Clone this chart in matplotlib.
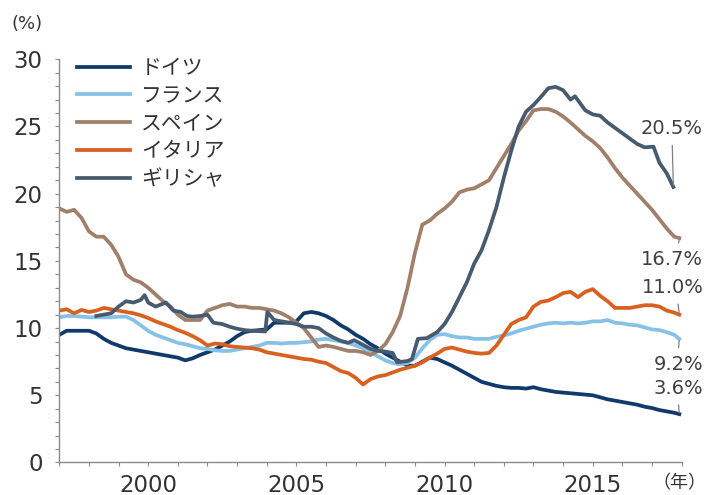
import numpy as np
import matplotlib
matplotlib.use("Agg")
import matplotlib.pyplot as plt
from matplotlib.ticker import MultipleLocator

# ---------------- data ----------------
series_names = ["ドイツ", "フランス", "スペイン", "イタリア", "ギリシャ"]
colors = ["#0f3a6b", "#86c2e8", "#a0806b", "#d8611f", "#475b70"]

# quarterly grid Jan-1997 .. Oct-2017 plus Dec-2017
quarter_years = list(np.arange(1997.0, 2018.0, 0.25)) + [2017.92]

germany = [9.5, 9.8, 9.8, 9.8,
           9.8, 9.6, 9.2, 8.9,
           8.7, 8.5, 8.4, 8.3,
           8.2, 8.1, 8.0, 7.9,
           7.8, 7.6, 7.75, 8.0,
           8.2, 8.4, 8.7, 9.0,
           9.4, 9.7, 9.8, 9.85,
           9.9, 10.4, 10.4, 10.4,
           10.5, 11.1, 11.2, 11.1,
           10.9, 10.6, 10.2, 9.9,
           9.5, 9.2, 8.8, 8.5,
           8.1, 7.8, 7.5, 7.2,
           7.2, 7.5, 7.8, 7.7,
           7.45, 7.2, 6.9, 6.6,
           6.3, 6.0, 5.85, 5.7,
           5.6, 5.55, 5.55, 5.5,
           5.6, 5.45, 5.35, 5.25,
           5.2, 5.15, 5.1, 5.05,
           5.0, 4.85, 4.7, 4.6,
           4.5, 4.4, 4.3, 4.15,
           4.05, 3.9, 3.8, 3.7,
           3.6]

france = [10.8, 10.9, 10.9, 10.85,
          10.8, 10.8, 10.8, 10.8,
          10.85, 10.85, 10.6, 10.2,
          9.8, 9.5, 9.3, 9.1,
          8.9, 8.8, 8.65, 8.5,
          8.45, 8.35, 8.3, 8.3,
          8.4, 8.5, 8.6, 8.7,
          8.9, 8.9, 8.85, 8.9,
          8.9, 8.95, 9.0, 9.15,
          9.2, 9.1, 9.0, 8.9,
          8.7, 8.5, 8.2, 7.9,
          7.6, 7.4, 7.3, 7.4,
          7.8, 8.5, 9.1, 9.5,
          9.55, 9.4, 9.3, 9.3,
          9.2, 9.2, 9.2, 9.35,
          9.45, 9.6, 9.8, 9.95,
          10.1, 10.25, 10.35, 10.4,
          10.35, 10.4, 10.35, 10.4,
          10.5, 10.5, 10.6, 10.4,
          10.35, 10.25, 10.2, 10.05,
          9.9, 9.85, 9.7, 9.5,
          9.2]

spain = [18.9, 18.65, 18.8, 18.2,
         17.2, 16.8, 16.8, 16.2,
         15.3, 14.0, 13.6, 13.4,
         13.0, 12.5, 12.0, 11.6,
         11.0, 10.6, 10.6, 10.6,
         11.3, 11.5, 11.7, 11.8,
         11.6, 11.6, 11.5, 11.5,
         11.4, 11.3, 11.1, 10.8,
         10.4, 10.0, 9.3, 8.6,
         8.7, 8.6, 8.45, 8.3,
         8.3, 8.2, 8.0, 8.3,
         8.8, 9.7, 10.9, 13.0,
         15.6, 17.7, 18.0, 18.5,
         18.9, 19.4, 20.1, 20.3,
         20.4, 20.7, 21.0, 21.9,
         22.8, 23.7, 24.7, 25.4,
         26.2, 26.3, 26.3, 26.1,
         25.75, 25.3, 24.8, 24.3,
         23.9, 23.4, 22.7, 21.9,
         21.2, 20.6, 20.0, 19.4,
         18.8, 18.1, 17.4, 16.8,
         16.7]

italy = [11.3, 11.4, 11.1, 11.35,
         11.2, 11.3, 11.5, 11.4,
         11.3, 11.2, 11.1, 10.95,
         10.75, 10.5, 10.3, 10.1,
         9.85, 9.65, 9.4, 9.1,
         8.7, 8.85, 8.8, 8.65,
         8.6, 8.55, 8.5, 8.4,
         8.2, 8.1, 8.0, 7.9,
         7.8, 7.7, 7.65, 7.5,
         7.4, 7.1, 6.8, 6.65,
         6.3, 5.8, 6.2, 6.4,
         6.5, 6.7, 6.9, 7.05,
         7.2, 7.45, 7.8, 8.1,
         8.45, 8.55, 8.4, 8.25,
         8.15, 8.1, 8.15, 8.7,
         9.5, 10.3, 10.6, 10.8,
         11.6, 11.95, 12.05, 12.3,
         12.6, 12.7, 12.3, 12.7,
         12.9, 12.4, 12.0, 11.5,
         11.5, 11.5, 11.6, 11.7,
         11.7, 11.6, 11.3, 11.15,
         11.0]

greece_years = [1998.25, 1998.5, 1998.75, 1999.0, 1999.25, 1999.5, 1999.75, 1999.88,
                2000.0, 2000.25, 2000.6, 2000.85, 2001.1, 2001.3, 2001.5, 2001.75,
                2002.0, 2002.2, 2002.5, 2002.75, 2003.0, 2003.25, 2003.5, 2003.95,
                2004.02, 2004.25, 2004.5, 2004.75, 2005.0, 2005.25, 2005.5, 2005.75,
                2006.0, 2006.25, 2006.5, 2006.75, 2006.95, 2007.25, 2007.5, 2007.75,
                2008.0, 2008.25, 2008.4, 2008.75, 2008.9, 2009.1, 2009.4, 2009.75,
                2010.0, 2010.25, 2010.5, 2010.75, 2011.0, 2011.25, 2011.5, 2011.75,
                2012.0, 2012.25, 2012.5, 2012.75, 2013.0, 2013.25, 2013.5, 2013.75,
                2014.0, 2014.25, 2014.4, 2014.75, 2015.0, 2015.25, 2015.5, 2015.75,
                2016.0, 2016.25, 2016.5, 2016.75, 2017.05, 2017.25, 2017.5, 2017.72]
greece = [10.9, 11.0, 11.1, 11.6, 12.0, 11.9, 12.1, 12.45,
          11.9, 11.6, 11.9, 11.3, 11.2, 10.9, 10.85, 10.9,
          11.0, 10.4, 10.3, 10.1, 9.95, 9.85, 9.8, 9.75,
          11.2, 10.6, 10.5, 10.4, 10.3, 10.1, 10.1, 10.0,
          9.6, 9.3, 9.05, 8.9, 9.1, 8.75, 8.45, 8.3,
          8.25, 8.15, 7.45, 7.55, 7.7, 9.2, 9.25, 9.7,
          10.3, 11.2, 12.3, 13.4, 14.8, 15.8, 17.3, 19.0,
          21.2, 23.2, 25.0, 26.1, 26.6, 27.2, 27.85, 27.95,
          27.7, 27.0, 27.25, 26.2, 25.9, 25.8, 25.3, 24.9,
          24.5, 24.1, 23.7, 23.45, 23.5, 22.3, 21.5, 20.5]

x_data = [quarter_years, quarter_years, quarter_years, quarter_years, greece_years]
y_data = [germany, france, spain, italy, greece]

end_labels = ["3.6%", "9.2%", "16.7%", "11.0%", "20.5%"]

x_ticks = [2000, 2005, 2010, 2015]
y_ticks = [0, 5, 10, 15, 20, 25, 30]

# ---------------- figure ----------------
plt.rcParams['font.family'] = ['DejaVu Sans', 'Noto Sans CJK JP']
TEXT = "#333333"
AXC = "#8a8a8a"

fig = plt.figure(figsize=(7.05, 4.95), dpi=100)
ax = fig.add_axes([0.0841, 0.0657, 0.8828, 0.8145])

for xs, ys, c, name in zip(x_data, y_data, colors, series_names):
    ax.plot(xs, ys, color=c, lw=2.7, label=name, solid_joinstyle='round')

ax.set_xlim(1997, 2018.0)
ax.set_ylim(0, 30)
ax.set_xticks(x_ticks)
ax.set_yticks(y_ticks)
ax.xaxis.set_minor_locator(MultipleLocator(1))
ax.yaxis.set_minor_locator(MultipleLocator(1))

for s in ["top", "right"]:
    ax.spines[s].set_visible(False)
for s in ["left", "bottom"]:
    ax.spines[s].set_color(AXC)
    ax.spines[s].set_linewidth(1.0)

ax.tick_params(axis='both', which='both', direction='out', length=3,
               width=0.8, color=AXC)
ax.tick_params(axis='both', which='major', labelsize=16.5, labelcolor=TEXT)
ax.tick_params(axis='y', which='major', pad=9)
ax.tick_params(axis='x', which='major', pad=5)

# legend
leg = ax.legend(loc='upper left', bbox_to_anchor=(0.028, 1.006), frameon=False,
                prop={'family': ['Noto Sans CJK JP'], 'size': 15},
                handlelength=2.55, handletextpad=0.55, labelspacing=0.28,
                borderpad=0, borderaxespad=0)
for t in leg.get_texts():
    t.set_color(TEXT)

# end labels with leader lines
offsets = [  # (dx, dy) in points, relpos on text bbox
    ((17.3, 18.5), (0.49, 0.0)),
    ((17.3, -18.3), (0.49, 1.0)),
    ((17.3, -15.3), (0.59, 1.0)),
    ((17.3, 19.4), (0.58, 0.0)),
    ((21.4, 41.8), (0.5, 0.0)),
]
for xs, ys, lab, (off, rp) in zip(x_data, y_data, end_labels, offsets):
    ax.annotate(lab, xy=(xs[-1], ys[-1]), xycoords='data',
                xytext=off, textcoords='offset points',
                ha='right', va='center', fontsize=14, color="#404040",
                annotation_clip=False,
                arrowprops=dict(arrowstyle='-', color="#808080", lw=0.9,
                                shrinkA=3, shrinkB=1, relpos=rp))

fig.text(27 / 705, 1 - 24 / 495, "(%)", ha='center', va='center',
         fontsize=13, color=TEXT)
fig.text(679 / 705, 1 - 483 / 495, "（年）", ha='center', va='center',
         fontsize=13, color=TEXT, family=['Noto Sans CJK JP'])

fig.savefig("out.png", dpi=100)
